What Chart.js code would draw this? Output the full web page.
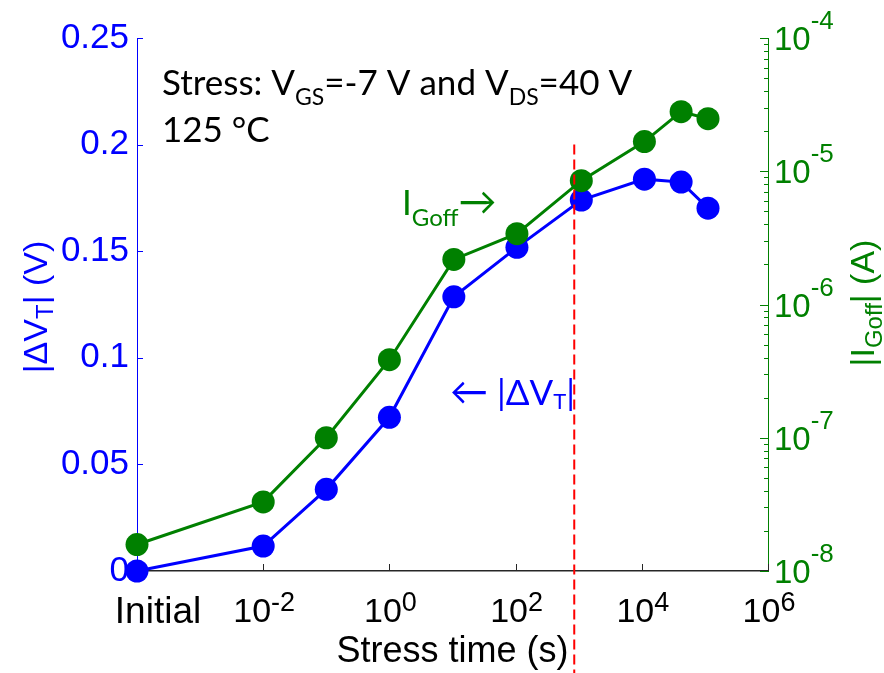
<!DOCTYPE html>
<html>
<head>
<meta charset="utf-8">
<script src="https://cdn.jsdelivr.net/npm/chart.js@4.4.1/dist/chart.umd.min.js"></script>
<style>
body { margin: 0; background: #fff; }
</style>
</head>
<body>
<canvas id="chart" width="884" height="673"></canvas>
<script>
// stress times in s, the "Initial" point sits at the left end of the log axis (1e-4)
var stressTimes = [1e-4, 0.01, 0.1, 1, 10.5, 105, 1100, 1.1e4, 4.2e4, 1.12e5];
var deltaVt = [0, 0.0117, 0.0383, 0.0721, 0.1286, 0.1518, 0.174, 0.1838, 0.1824, 0.1702];
var iGoff = [1.58e-8, 3.3e-8, 1.0e-7, 3.85e-7, 2.18e-6, 3.4e-6, 8.5e-6, 1.67e-5, 2.8e-5, 2.48e-5];

var vtTicks = [0, 0.05, 0.1, 0.15, 0.2, 0.25];
var vtTickLabels = ['0', '0.05', '0.1', '0.15', '0.2', '0.25'];
var timeTickExps = [-2, 0, 2, 4, 6];
var currentTickExps = [-8, -7, -6, -5, -4];
var initialLabel = 'Initial';
var markerTime = 850; // red dashed line

var BLUE = '#0000ff';
var GREEN = '#008000';
var ARIAL = '"Liberation Sans", Arial, sans-serif';
var CALIBRI = 'Lato, "Open Sans", sans-serif';

function toPoints(ys) {
    return stressTimes.map(function(t, i) { return {x: t, y: ys[i]}; });
}

// draws a run of text pieces (with sub/superscripts), returns width
function drawParts(ctx, parts, x, y, align, family, color) {
    var total = 0;
    parts.forEach(function(p) {
        ctx.font = p.size + 'px ' + family;
        p.w = ctx.measureText(p.t).width;
        total += p.w;
    });
    var cx = x;
    if (align == 'center') cx = x - total / 2;
    if (align == 'right') cx = x - total;
    ctx.fillStyle = color;
    ctx.textAlign = 'left';
    ctx.textBaseline = 'alphabetic';
    parts.forEach(function(p) {
        ctx.font = p.size + 'px ' + family;
        ctx.fillText(p.t, cx, y + (p.dy || 0));
        cx += p.w;
    });
    return total;
}

var decorations = {
    id: 'decorations',
    afterDatasetsDraw: function(chart) {
        var ctx = chart.ctx;
        var xs = chart.scales.x;
        var ys = chart.scales.y;
        var mx = xs.getPixelForValue(markerTime);
        ctx.save();
        ctx.strokeStyle = '#ff0000';
        ctx.lineWidth = 2;
        ctx.setLineDash([10, 5]);
        ctx.beginPath();
        ctx.moveTo(mx, ys.getPixelForValue(0.2));
        ctx.lineTo(mx, chart.height);
        ctx.stroke();
        ctx.restore();
    },
    afterDraw: function(chart) {
        var ctx = chart.ctx;
        var area = chart.chartArea;
        var xs = chart.scales.x;
        var ys = chart.scales.y;
        var y2 = chart.scales.y2;
        ctx.save();

        // inward tick marks
        ctx.lineWidth = 1;
        ctx.strokeStyle = BLUE;
        vtTicks.forEach(function(v) {
            var py = Math.round(ys.getPixelForValue(v)) + 0.5;
            ctx.beginPath();
            ctx.moveTo(area.left, py);
            ctx.lineTo(area.left + 6, py);
            ctx.stroke();
        });
        ctx.strokeStyle = '#262626';
        timeTickExps.forEach(function(e) {
            var px = Math.round(xs.getPixelForValue(Math.pow(10, e))) + 0.5;
            ctx.beginPath();
            ctx.moveTo(px, area.bottom);
            ctx.lineTo(px, area.bottom - 7);
            ctx.stroke();
        });
        ctx.strokeStyle = GREEN;
        for (var k = -8; k < -4; k++) {
            for (var m = 1; m <= 10; m++) {
                var py = Math.round(y2.getPixelForValue(m * Math.pow(10, k))) + 0.5;
                var len = (m == 1 || m == 10) ? 8 : 4;
                ctx.beginPath();
                ctx.moveTo(area.right, py);
                ctx.lineTo(area.right - len, py);
                ctx.stroke();
            }
        }

        // x tick labels
        drawParts(ctx, [{t: initialLabel, size: 37}], xs.getPixelForValue(1e-4) + 21, 623, 'center', ARIAL, '#000');
        timeTickExps.forEach(function(e) {
            drawParts(ctx, [{t: '10', size: 34}, {t: String(e), size: 27, dy: -11}],
                xs.getPixelForValue(Math.pow(10, e)) + 1, 622, 'center', ARIAL, '#000');
        });
        // right tick labels
        currentTickExps.forEach(function(e) {
            var py = y2.getPixelForValue(Math.pow(10, e));
            drawParts(ctx, [{t: '10', size: 33}, {t: String(e), size: 26, dy: -21}],
                area.right + 6, py + 12, 'left', ARIAL, GREEN);
        });

        // axis titles
        drawParts(ctx, [{t: 'Stress time (s)', size: 36}], (area.left + area.right) / 2, 662, 'center', ARIAL, '#000');

        ctx.save();
        ctx.translate(47, 307);
        ctx.rotate(-Math.PI / 2);
        drawParts(ctx, [{t: '|\u0394V', size: 34}, {t: 'T', size: 24, dy: 6}, {t: '| (V)', size: 34}],
            0, 0, 'center', ARIAL, BLUE);
        ctx.restore();

        ctx.save();
        ctx.translate(874, 303);
        ctx.rotate(-Math.PI / 2);
        drawParts(ctx, [{t: '|I', size: 34}, {t: 'Goff', size: 24, dy: 8}, {t: '| (A)', size: 34}],
            0, 0, 'center', ARIAL, GREEN);
        ctx.restore();

        // annotations
        drawParts(ctx, [{t: 'Stress: V', size: 35}, {t: 'GS', size: 23, dy: 10}, {t: '=-7 V and V', size: 35},
            {t: 'DS', size: 23, dy: 10}, {t: '=40 V', size: 35}], 162, 95, 'left', CALIBRI, '#000');
        drawParts(ctx, [{t: '125 \u00b0C', size: 35}], 162, 142, 'left', CALIBRI, '#000');
        drawParts(ctx, [{t: 'I', size: 35}, {t: 'Goff', size: 24, dy: 11}, {t: '\u2192', size: 38}],
            402, 215, 'left', CALIBRI, GREEN);
        drawParts(ctx, [{t: '\u2190', size: 38}, {t: ' |\u0394V', size: 35}, {t: 'T', size: 22, dy: 4}, {t: '|', size: 35}],
            450, 405, 'left', CALIBRI, BLUE);

        ctx.restore();
    }
};

var chart = new Chart(document.getElementById('chart'), {
    type: 'line',
    data: {
        datasets: [{
            label: 'IGoff',
            data: toPoints(iGoff),
            yAxisID: 'y2',
            borderColor: GREEN,
            backgroundColor: GREEN,
            borderWidth: 3,
            pointRadius: 11.5,
            pointHoverRadius: 11.5,
            pointBorderWidth: 0,
            tension: 0,
            clip: false,
            order: 1
        }, {
            label: 'dVT',
            data: toPoints(deltaVt),
            yAxisID: 'y',
            borderColor: BLUE,
            backgroundColor: BLUE,
            borderWidth: 3,
            pointRadius: 11.5,
            pointHoverRadius: 11.5,
            pointBorderWidth: 0,
            tension: 0,
            clip: false,
            order: 2
        }]
    },
    options: {
        responsive: false,
        animation: false,
        events: [],
        layout: {padding: {top: 38, left: 0, right: 0, bottom: 0}},
        plugins: {
            legend: {display: false},
            tooltip: {enabled: false}
        },
        scales: {
            x: {
                type: 'logarithmic',
                min: 1e-4,
                max: 1e6,
                grid: {display: false, drawTicks: false},
                border: {display: true, color: '#262626', width: 1.5},
                ticks: {display: false},
                afterFit: function(s) { s.height = 102; }
            },
            y: {
                type: 'linear',
                position: 'left',
                min: 0,
                max: 0.25,
                grid: {display: false, drawTicks: false},
                border: {display: true, color: BLUE, width: 1},
                afterBuildTicks: function(s) {
                    s.ticks = vtTicks.map(function(v) { return {value: v}; });
                },
                ticks: {
                    color: BLUE,
                    padding: 8,
                    font: {family: ARIAL, size: 35},
                    callback: function(v, i) { return vtTickLabels[i]; }
                },
                afterFit: function(s) { s.width = 137; }
            },
            y2: {
                type: 'logarithmic',
                position: 'right',
                min: 1e-8,
                max: 1e-4,
                grid: {display: false, drawTicks: false},
                border: {display: true, color: GREEN, width: 1},
                ticks: {display: false},
                afterFit: function(s) { s.width = 116; }
            }
        }
    },
    plugins: [decorations]
});
</script>
</body>
</html>
